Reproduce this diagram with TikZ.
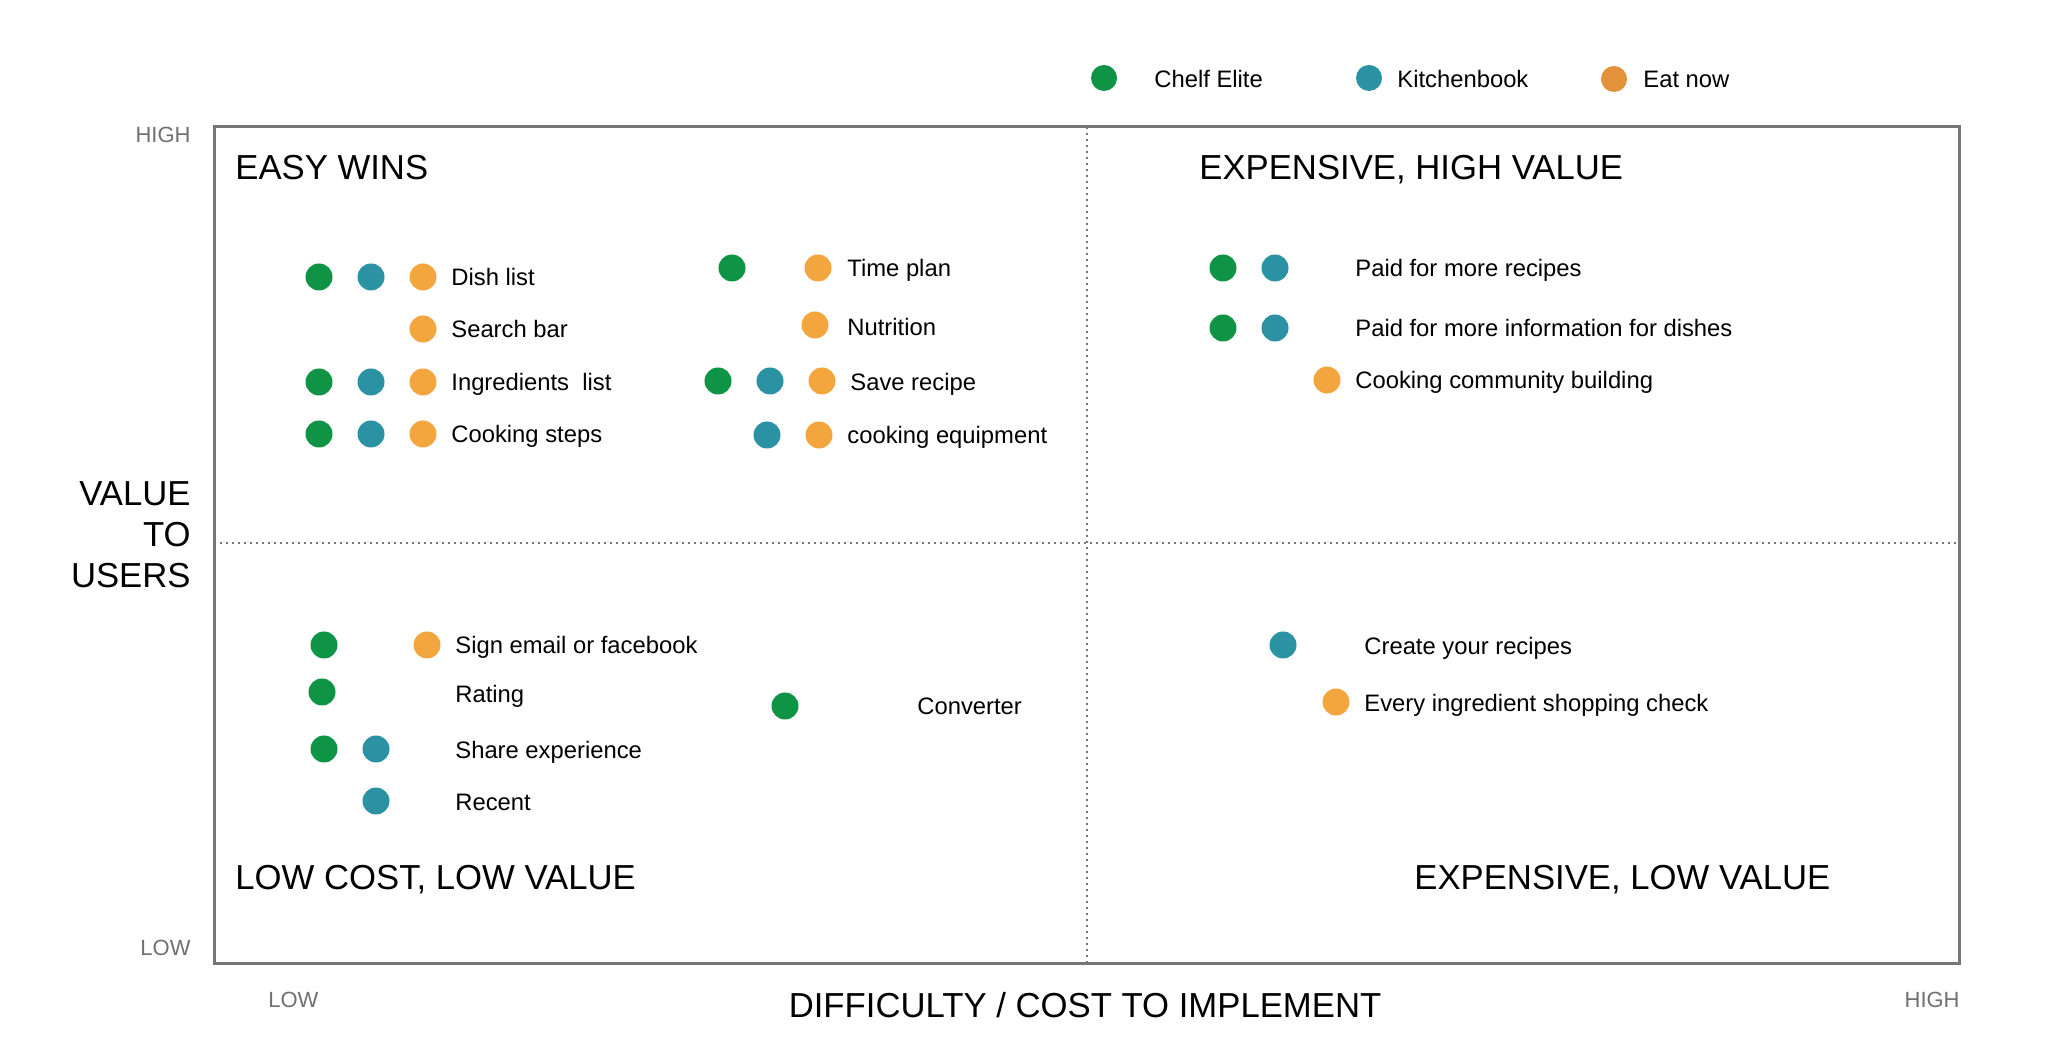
\documentclass[tikz,border=0pt]{standalone}
\usepackage{fontspec}
\setmainfont{Liberation Sans}
\definecolor{cgreen}{HTML}{0E9444}
\definecolor{cteal}{HTML}{2B92A3}
\definecolor{corange}{HTML}{F4A63E}
\definecolor{clegorange}{HTML}{E3913A}
\definecolor{frame}{HTML}{777777}
\definecolor{axisgrey}{HTML}{707070}
\begin{document}
\begin{tikzpicture}[x=0.5pt,y=-0.5pt,
  dot/.style={circle,inner sep=0pt,minimum size=13.5pt},
  ce/.style={dot,fill=cgreen},
  kb/.style={dot,fill=cteal},
  en/.style={dot,fill=corange},
  item/.style={anchor=west,inner sep=0pt,font=\fontsize{11.9}{14}\selectfont,text height=8.5pt,text depth=0pt},
  title/.style={anchor=west,inner sep=0pt,font=\fontsize{17.35}{20}\selectfont,text height=12.4pt,text depth=0pt},
  axislbl/.style={inner sep=0pt,text=axisgrey,font=\fontsize{11}{13}\selectfont,text height=7.9pt,text depth=0pt},
  midline/.style={draw=frame,line width=1pt,dotted}]
\useasboundingbox (0,0) rectangle (2068,1058);
\fill[white] (0,0) rectangle (2068,1058);

% quadrant dividers and frame
\coordinate (tl) at (214,127);
\coordinate (br) at (1959,963);
\draw[midline] (1087,127) -- (1087,963);
\draw[midline] (214,543) -- (1959,543);
\draw[frame,line width=1.5pt] (tl) rectangle (br);

% legend
\node[ce,minimum size=13pt] (lg1) at (1104,78) {};
\node[item] (lt1) at (1154,79) {Chelf Elite};
\node[kb,minimum size=13pt] (lg2) at (1369,78) {};
\node[item] (lt2) at (1397,79) {Kitchenbook};
\node[dot,fill=clegorange,minimum size=13pt] (lg3) at (1614,79) {};
\node[item] (lt3) at (1643,79) {Eat now};

% axis labels
\node[axislbl,anchor=east] (yhigh) at (191,135) {HIGH};
\node[axislbl,anchor=east] (ylow) at (191,948) {LOW};
\node[axislbl,anchor=west] (xlow) at (268,1000) {LOW};
\node[axislbl,anchor=east] (xhigh) at (1960,1000) {HIGH};
\node[title,anchor=center] (xlab) at (1085,1005) {DIFFICULTY / COST TO IMPLEMENT};
\node[title,anchor=east] (ylab1) at (191,493) {VALUE};
\node[title,anchor=east] (ylab2) at (191,534) {TO};
\node[title,anchor=east] (ylab3) at (191,575) {USERS};

% quadrant titles
\node[title] (q1) at (235,167) {EASY WINS};
\node[title] (q2) at (1199,167) {EXPENSIVE, HIGH VALUE};
\node[title] (q3) at (235,877) {LOW COST, LOW VALUE};
\node[title] (q4) at (1414,877) {EXPENSIVE, LOW VALUE};

% easy wins, left column
\node[ce] (a1g) at (319,277) {}; \node[kb] (a1t) at (371,277) {}; \node[en] (a1o) at (423,277) {};
\node[item] (a1) at (451,277) {Dish list};
\node[en] (a2o) at (423,329) {};
\node[item] (a2) at (451,329) {Search bar};
\node[ce] (a3g) at (319,382) {}; \node[kb] (a3t) at (371,382) {}; \node[en] (a3o) at (423,382) {};
\node[item] (a3) at (451,382) {Ingredients\ \ list};
\node[ce] (a4g) at (319,434) {}; \node[kb] (a4t) at (371,434) {}; \node[en] (a4o) at (423,434) {};
\node[item] (a4) at (451,434) {Cooking steps};

% easy wins, right column
\node[ce] (b1g) at (732,268) {}; \node[en] (b1o) at (818,268) {};
\node[item] (b1) at (847,268) {Time plan};
\node[en] (b2o) at (815,325) {};
\node[item] (b2) at (847,327) {Nutrition};
\node[ce] (b3g) at (718,381) {}; \node[kb] (b3t) at (770,381) {}; \node[en] (b3o) at (822,381) {};
\node[item] (b3) at (850,382) {Save recipe};
\node[kb] (b4t) at (767,435) {}; \node[en] (b4o) at (819,435) {};
\node[item] (b4) at (847,435) {cooking equipment};

% expensive, high value
\node[ce] (c1g) at (1223,268) {}; \node[kb] (c1t) at (1275,268) {};
\node[item] (c1) at (1355,268) {Paid for more recipes};
\node[ce] (c2g) at (1223,328) {}; \node[kb] (c2t) at (1275,328) {};
\node[item] (c2) at (1355,328) {Paid for more information for dishes};
\node[en] (c3o) at (1327,380) {};
\node[item] (c3) at (1355,380) {Cooking community building};

% low cost, low value
\node[ce] (d1g) at (324,645) {}; \node[en] (d1o) at (427,645) {};
\node[item] (d1) at (455,645) {Sign email or facebook};
\node[ce] (d2g) at (322,692) {};
\node[item] (d2) at (455,694) {Rating};
\node[ce] (d3g) at (324,749) {}; \node[kb] (d3t) at (376,749) {};
\node[item] (d3) at (455,750) {Share experience};
\node[kb] (d4t) at (376,801) {};
\node[item] (d4) at (455,802) {Recent};
\node[ce] (d5g) at (785,706) {};
\node[item] (d5) at (917,706) {Converter};

% expensive, low value
\node[kb] (e1t) at (1283,645) {};
\node[item] (e1) at (1364,646) {Create your recipes};
\node[en] (e2o) at (1336,702) {};
\node[item] (e2) at (1364,703) {Every ingredient shopping check};
\end{tikzpicture}
\end{document}
